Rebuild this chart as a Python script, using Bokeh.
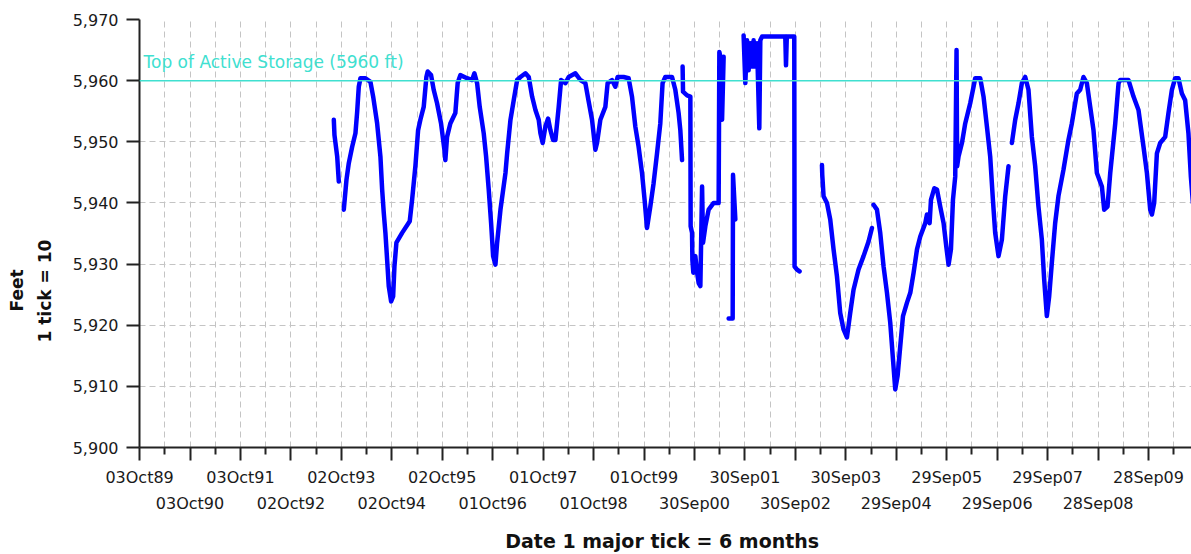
import numpy as np
import pandas as pd
from bokeh.plotting import figure
from bokeh.models import (Range1d, FixedTicker, NumeralTickFormatter, CustomJSTickFormatter,
                          DatetimeAxis, Span, Label, Title, ColumnDataSource)
from bokeh.embed import file_html
from bokeh.resources import INLINE

# ---------------- data ----------------
row1_labels = ["03Oct89", "03Oct91", "02Oct93", "02Oct95", "01Oct97", "01Oct99",
               "30Sep01", "30Sep03", "29Sep05", "29Sep07", "28Sep09"]
row2_labels = ["03Oct90", "02Oct92", "02Oct94", "01Oct96", "01Oct98", "30Sep00",
               "30Sep02", "29Sep04", "29Sep06", "28Sep08"]
y_ticks = [5900, 5910, 5920, 5930, 5940, 5950, 5960, 5970]

storage_top = 5960
storage_text = "Top of Active Storage (5960 ft)"
x_title = "Date  1 major tick = 6 months"
y_title_1 = "Feet"
y_title_2 = "1 tick = 10"

# reservoir elevation (decimal year, feet), one list per unbroken piece
seg1_year = [1993.601, 1993.614, 1993.668, 1993.700]
seg1_feet = [5953.6, 5951.1, 5947.6, 5943.5]

seg2_year = [1993.799, 1993.852, 1993.898, 1993.965, 1994.030, 1994.064, 1994.096, 1994.129,
             1994.228, 1994.327, 1994.381, 1994.460, 1994.525, 1994.559, 1994.591, 1994.624,
             1994.658, 1994.690, 1994.737, 1994.777, 1994.803, 1994.842, 1994.955, 1995.106,
             1995.153, 1995.218, 1995.272, 1995.317, 1995.383, 1995.436, 1995.462, 1995.529,
             1995.581, 1995.648, 1995.727, 1995.793, 1995.812, 1995.846, 1995.911, 1996.010,
             1996.056, 1996.109, 1996.242, 1996.341, 1996.387, 1996.440, 1996.492, 1996.571,
             1996.618, 1996.670, 1996.717, 1996.757, 1996.803, 1996.836, 1996.902, 1997.001,
             1997.034, 1997.100, 1997.165, 1997.232, 1997.298, 1997.397, 1997.462, 1997.529,
             1997.595, 1997.660, 1997.694, 1997.739, 1997.793, 1997.846, 1997.892, 1997.945,
             1997.991, 1998.056, 1998.104, 1998.189, 1998.254, 1998.387, 1998.486, 1998.585,
             1998.650, 1998.717, 1998.783, 1998.816, 1998.882, 1998.981, 1999.026, 1999.113,
             1999.179, 1999.224, 1999.343, 1999.442, 1999.509, 1999.575, 1999.640, 1999.708,
             1999.759, 1999.807, 1999.872, 1999.937, 2000.005, 2000.070, 2000.115, 2000.169,
             2000.302, 2000.367, 2000.432, 2000.466, 2000.500]
seg2_feet = [5938.9, 5943.8, 5946.5, 5949.2, 5951.4, 5954.9, 5959.0, 5960.4,
             5960.4, 5959.8, 5957.4, 5953.0, 5947.6, 5942.2, 5938.4, 5935.1,
             5930.7, 5926.4, 5923.9, 5924.7, 5929.6, 5933.5, 5935.1, 5937.0,
             5940.5, 5946.0, 5951.9, 5953.6, 5955.7, 5960.6, 5961.5, 5960.9,
             5958.5, 5956.3, 5953.0, 5948.7, 5947.0, 5950.8, 5953.0, 5954.7,
             5959.6, 5960.9, 5960.4, 5960.1, 5961.2, 5959.6, 5955.7, 5951.4,
             5947.6, 5942.2, 5936.7, 5931.3, 5929.9, 5933.5, 5938.9, 5944.9,
             5948.1, 5953.6, 5956.8, 5960.1, 5960.6, 5961.2, 5960.6, 5957.4,
             5955.2, 5953.6, 5951.4, 5949.8, 5952.5, 5953.8, 5951.9, 5950.3,
             5950.3, 5955.7, 5960.1, 5959.6, 5960.6, 5961.2, 5960.1, 5959.6,
             5956.6, 5953.6, 5948.7, 5949.8, 5953.6, 5955.7, 5959.6, 5960.1,
             5959.0, 5960.6, 5960.6, 5960.4, 5957.4, 5952.5, 5949.2, 5944.9,
             5940.5, 5935.9, 5939.4, 5943.2, 5948.1, 5953.0, 5959.6, 5960.6,
             5960.6, 5958.5, 5954.7, 5951.9, 5947.0]

seg3_year = [2000.511, 2000.519, 2000.599, 2000.664, 2000.670, 2000.698, 2000.704, 2000.723,
             2000.763, 2000.797, 2000.828, 2000.862, 2000.896, 2000.915, 2000.961, 2001.026,
             2001.125, 2001.224, 2001.238, 2001.258, 2001.292, 2001.323]
seg3_feet = [5962.3, 5958.2, 5957.6, 5957.4, 5936.2, 5935.1, 5930.7, 5928.6,
             5931.3, 5928.6, 5926.9, 5926.4, 5942.7, 5933.5, 5936.2, 5938.9,
             5940.0, 5940.0, 5964.7, 5963.9, 5953.6, 5963.9]

seg4_year = [2001.422, 2001.502, 2001.509, 2001.555]
seg4_feet = [5921.1, 5921.1, 5944.6, 5937.3]

seg5_year = [2001.719, 2001.753, 2001.787, 2001.818, 2001.852, 2001.886, 2001.917, 2001.951,
             2001.985, 2002.030, 2002.050, 2002.084, 2002.545, 2002.559, 2002.575, 2002.723,
             2002.729, 2002.777, 2002.828]
seg5_feet = [5967.4, 5959.6, 5966.6, 5961.7, 5966.1, 5962.3, 5966.6, 5962.3,
             5966.1, 5952.2, 5966.6, 5967.2, 5967.2, 5962.5, 5967.2, 5967.2,
             5929.6, 5929.1, 5928.8]

seg6_year = [2003.272, 2003.278, 2003.304, 2003.371, 2003.436, 2003.502, 2003.569, 2003.634,
             2003.700, 2003.767, 2003.832, 2003.898, 2003.997, 2004.096, 2004.195, 2004.262]
seg6_feet = [5946.2, 5944.6, 5941.1, 5940.0, 5937.3, 5932.4, 5928.0, 5922.0,
             5919.3, 5918.0, 5922.0, 5925.8, 5929.1, 5931.3, 5933.7, 5935.9]

seg7_year = [2004.294, 2004.361, 2004.426, 2004.492, 2004.559, 2004.624, 2004.678, 2004.723,
             2004.769, 2004.822, 2004.876, 2004.955, 2005.020, 2005.086, 2005.153, 2005.218,
             2005.317, 2005.351, 2005.403, 2005.430, 2005.496, 2005.549, 2005.614, 2005.680,
             2005.733, 2005.779, 2005.826, 2005.866, 2005.911, 2005.937, 2005.949, 2005.977,
             2006.044, 2006.109, 2006.208, 2006.274, 2006.307, 2006.406, 2006.472, 2006.539,
             2006.604, 2006.658, 2006.703, 2006.769, 2006.836, 2006.902, 2006.967]
seg7_feet = [5939.7, 5938.9, 5935.1, 5929.6, 5925.3, 5920.4, 5914.4, 5909.5,
             5911.7, 5916.6, 5921.5, 5923.7, 5925.3, 5928.6, 5932.4, 5934.5,
             5936.7, 5938.1, 5936.7, 5940.5, 5942.4, 5942.2, 5939.4, 5936.7,
             5932.9, 5929.9, 5932.4, 5940.5, 5944.3, 5965.0, 5946.0, 5947.6,
             5949.8, 5953.0, 5956.3, 5959.0, 5960.4, 5960.4, 5957.4, 5952.5,
             5947.6, 5940.5, 5935.1, 5931.3, 5934.0, 5941.1, 5946.0]

seg8_year = [2007.034, 2007.100, 2007.165, 2007.232, 2007.298, 2007.363, 2007.430, 2007.496,
             2007.561, 2007.628, 2007.674, 2007.727, 2007.773, 2007.826, 2007.892, 2007.957,
             2008.056, 2008.155, 2008.222, 2008.321, 2008.387, 2008.452, 2008.519, 2008.585,
             2008.650, 2008.717, 2008.816, 2008.862, 2008.927, 2008.981, 2009.080, 2009.146,
             2009.179, 2009.343, 2009.442, 2009.541, 2009.640, 2009.708, 2009.773, 2009.807,
             2009.852, 2009.906, 2009.971, 2010.070, 2010.135, 2010.203, 2010.268, 2010.333,
             2010.401, 2010.466, 2010.531, 2010.579, 2010.620]
seg8_feet = [5949.8, 5953.6, 5956.3, 5959.6, 5960.6, 5958.5, 5950.8, 5946.0,
             5939.4, 5934.0, 5927.5, 5921.5, 5924.7, 5930.2, 5936.7, 5941.1,
             5945.4, 5950.3, 5953.0, 5957.9, 5958.5, 5960.6, 5959.6, 5955.7,
             5951.9, 5944.9, 5942.7, 5938.9, 5939.4, 5944.9, 5953.0, 5959.6,
             5960.1, 5960.1, 5957.4, 5955.2, 5949.2, 5944.9, 5938.9, 5938.1,
             5940.0, 5948.1, 5949.8, 5950.8, 5954.7, 5958.5, 5960.4, 5960.4,
             5957.9, 5956.8, 5951.4, 5944.3, 5940.0]

segments = [(seg1_year, seg1_feet), (seg2_year, seg2_feet), (seg3_year, seg3_feet),
            (seg4_year, seg4_feet), (seg5_year, seg5_feet), (seg6_year, seg6_feet),
            (seg7_year, seg7_feet), (seg8_year, seg8_feet)]


# ---------------- helpers ----------------
def year_to_ms(t):
    y = int(t)
    start = pd.Timestamp(year=y, month=1, day=1)
    ndays = pd.Timestamp(year=y, month=12, day=31).dayofyear
    return (start + pd.Timedelta(days=(t - y) * ndays)).value / 1e6


def label_to_ms(s):
    return pd.to_datetime(s, format="%d%b%y").value / 1e6


xs, ys = [], []
for yrs, ft in segments:
    xs.extend(year_to_ms(t) for t in yrs)
    ys.extend(ft)
    xs.append(np.nan)
    ys.append(np.nan)
src = ColumnDataSource(dict(x=xs, y=ys))

row1_ms = [label_to_ms(s) for s in row1_labels]
row2_ms = [label_to_ms(s) for s in row2_labels]
year_ms = sorted(row1_ms + row2_ms)
half_ms = [(a + b) / 2 for a, b in zip(year_ms[:-1], year_ms[1:])]
half_ms.append(year_ms[-1] + (year_ms[-1] - year_ms[-2]) / 2)

x_start = year_ms[0] - 12 * 3600 * 1000
x_end = pd.Timestamp("2010-08-05").value / 1e6

FONT = "DejaVu Sans"
TXT = "#1a1a1a"

p = figure(width=1191, height=554, x_axis_type="datetime",
           x_range=Range1d(x_start, x_end), y_range=Range1d(5900, 5970),
           output_backend="svg", toolbar_location=None,
           min_border_left=139, min_border_right=0, min_border_top=19, min_border_bottom=106)
p.outline_line_color = None
p.background_fill_color = "white"
p.border_fill_color = "white"

# grids
for g, t in ((p.xgrid[0], sorted(year_ms + half_ms)), (p.ygrid[0], y_ticks)):
    g.ticker = FixedTicker(ticks=t)
    g.grid_line_color = "#c4c4c4"
    g.grid_line_dash = "6 4"
    g.grid_line_width = 1

# x axis (row 1 labels, all ticks)
fmt_code = "const i = ticks_ms.indexOf(tick); return i >= 0 ? labels[i] : '';"
ax = p.xaxis[0]
ax.ticker = FixedTicker(ticks=year_ms, minor_ticks=half_ms)
ax.formatter = CustomJSTickFormatter(args=dict(ticks_ms=row1_ms, labels=row1_labels), code=fmt_code)
ax.axis_line_width = 2
ax.axis_line_color = "#222222"
ax.major_tick_line_width = 2
ax.minor_tick_line_width = 2
ax.major_tick_line_color = "#222222"
ax.minor_tick_line_color = "#222222"
ax.major_tick_out = 13
ax.major_tick_in = 0
ax.minor_tick_out = 7
ax.minor_tick_in = 0
ax.major_label_standoff = 7
ax.major_label_text_font = FONT
ax.major_label_text_font_size = "16px"
ax.major_label_text_color = TXT

# second row of x labels + axis title
axb = DatetimeAxis(ticker=FixedTicker(ticks=row2_ms, minor_ticks=[]),
                   formatter=CustomJSTickFormatter(args=dict(ticks_ms=row2_ms, labels=row2_labels),
                                                   code=fmt_code))
axb.axis_line_color = None
axb.major_tick_line_color = None
axb.minor_tick_line_color = None
axb.major_tick_out = 0
axb.major_tick_in = 0
axb.minor_tick_out = 0
axb.minor_tick_in = 0
axb.major_label_standoff = 4
axb.major_label_text_font = FONT
axb.major_label_text_font_size = "16px"
axb.major_label_text_color = TXT
axb.axis_label = x_title
axb.axis_label_standoff = 14
axb.axis_label_text_font = FONT
axb.axis_label_text_font_style = "bold"
axb.axis_label_text_font_size = "19px"
axb.axis_label_text_color = "#111111"
p.add_layout(axb, "below")

# y axis
ay = p.yaxis[0]
ay.ticker = FixedTicker(ticks=y_ticks)
ay.formatter = NumeralTickFormatter(format="0,0")
ay.axis_line_width = 2
ay.axis_line_color = "#222222"
ay.major_tick_line_width = 2
ay.major_tick_line_color = "#222222"
ay.major_tick_out = 13
ay.major_tick_in = 0
ay.minor_tick_line_color = None
ay.major_label_standoff = 8
ay.major_label_text_font = FONT
ay.major_label_text_font_size = "16px"
ay.major_label_text_color = TXT
# blank spacer label to leave room between tick labels and the y title
ay.axis_label = " "
ay.axis_label_text_font_size = "1px"
ay.axis_label_standoff = 7

# y title: two rotated lines, placed in side panels, shifted down from the centre
for txt, off in ((y_title_2, 105), (y_title_1, 136)):
    p.add_layout(Title(text=txt, align="left", offset=off, vertical_align="middle",
                       standoff=6, text_font=FONT, text_font_style="bold",
                       text_font_size="17px", text_color="#111111"), "left")

# data line
p.line("x", "y", source=src, line_color="#0000ff", line_width=4.5,
       line_join="round", line_cap="round")

# top of active storage
p.add_layout(Span(location=storage_top, dimension="width", line_color="#40e0d0", line_width=1.5))
p.add_layout(Label(x=x_start, y=storage_top, x_offset=4, y_offset=19, text=storage_text,
                   text_baseline="alphabetic", text_align="left", text_font=FONT,
                   text_font_size="17px", text_color="#40e0d0"))

open("out.html", "w").write(file_html(p, INLINE))
